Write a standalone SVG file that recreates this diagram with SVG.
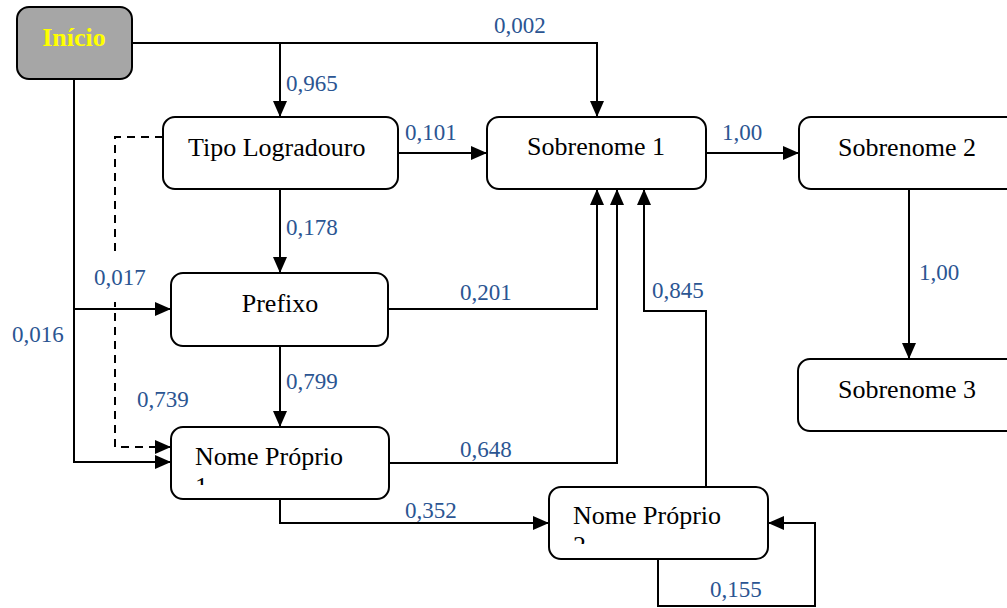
<svg xmlns="http://www.w3.org/2000/svg" width="1007" height="608" viewBox="0 0 1007 608">
  <style>
    .box { fill: #ffffff; stroke: #000000; stroke-width: 2; }
    .start { fill: #a6a6a6; stroke: #000000; stroke-width: 2; }
    .name { font-family: "Liberation Serif", "Times New Roman", serif; font-size: 26px; fill: #000000; }
    .startText { font-family: "Liberation Serif", "Times New Roman", serif; font-size: 26px; font-weight: bold; fill: #ffff00; }
    .wire { fill: none; stroke: #000000; stroke-width: 2; }
    .dash { fill: none; stroke: #000000; stroke-width: 2; stroke-dasharray: 8 6; }
    .prob { font-family: "Liberation Serif", "Times New Roman", serif; font-size: 23px; fill: #2b5592; }
  </style>
  <defs>
    <marker id="arrow" markerUnits="userSpaceOnUse" markerWidth="16" markerHeight="14" refX="15" refY="7" orient="auto">
      <path d="M0,0 L16,7 L0,14 Z" fill="#000000"/>
    </marker>
    <clipPath id="clipNp1"><rect x="171" y="427" width="218" height="58"/></clipPath>
    <clipPath id="clipNp2"><rect x="549" y="487" width="219" height="57"/></clipPath>
  </defs>

  <rect width="1007" height="608" fill="#ffffff"/>

  <!-- connectors -->
  <g id="connectors">
    <!-- from Início -->
    <path class="wire" d="M132,43 H597 V116" marker-end="url(#arrow)"/>
    <path class="wire" d="M280,43 V116" marker-end="url(#arrow)"/>
    <path class="wire" d="M74,79 V462 H170" marker-end="url(#arrow)"/>
    <path class="wire" d="M74,309 H170" marker-end="url(#arrow)"/>
    <!-- dashed: Tipo Logradouro to Nome Próprio 1 -->
    <path class="dash" d="M163,137 H115 V447 H170" marker-end="url(#arrow)"/>
    <!-- Tipo Logradouro -->
    <path class="wire" d="M398,153 H486" marker-end="url(#arrow)"/>
    <path class="wire" d="M280,189 V272" marker-end="url(#arrow)"/>
    <!-- Prefixo -->
    <path class="wire" d="M280,346 V426" marker-end="url(#arrow)"/>
    <path class="wire" d="M388,309 H597 V190" marker-end="url(#arrow)"/>
    <!-- Nome Próprio 1 -->
    <path class="wire" d="M389,463 H617 V190" marker-end="url(#arrow)"/>
    <path class="wire" d="M280,499 V523 H548" marker-end="url(#arrow)"/>
    <!-- Nome Próprio 2 -->
    <path class="wire" d="M706,487 V311 H644 V190" marker-end="url(#arrow)"/>
    <path class="wire" d="M658,559 V606 H815 V523 H769" marker-end="url(#arrow)"/>
    <!-- Sobrenome chain -->
    <path class="wire" d="M706,153 H798" marker-end="url(#arrow)"/>
    <path class="wire" d="M909,189 V358" marker-end="url(#arrow)"/>

    <!-- probabilities -->
    <text class="prob" x="494" y="33">0,002</text>
    <text class="prob" x="286" y="91">0,965</text>
    <text class="prob" x="405" y="140">0,101</text>
    <text class="prob" x="722" y="140">1,00</text>
    <text class="prob" x="286" y="235">0,178</text>
    <rect x="90" y="252" width="62" height="50" fill="#ffffff"/>
    <text class="prob" x="94" y="285">0,017</text>
    <text class="prob" x="12" y="342">0,016</text>
    <text class="prob" x="286" y="389">0,799</text>
    <text class="prob" x="137" y="407">0,739</text>
    <text class="prob" x="460" y="300">0,201</text>
    <text class="prob" x="652" y="298">0,845</text>
    <text class="prob" x="460" y="457">0,648</text>
    <text class="prob" x="405" y="518">0,352</text>
    <text class="prob" x="710" y="597">0,155</text>
    <text class="prob" x="919" y="280">1,00</text>
  </g>

  <!-- nodes -->
  <g id="inicio">
    <rect class="start" x="17" y="7" width="115" height="72" rx="12"/>
    <text class="startText" x="74" y="46" text-anchor="middle">Início</text>
  </g>
  <g id="tipo-logradouro">
    <rect class="box" x="163" y="117" width="235" height="72" rx="12"/>
    <text class="name" x="188" y="156">Tipo Logradouro</text>
  </g>
  <g id="sobrenome-1">
    <rect class="box" x="487" y="117" width="219" height="72" rx="12"/>
    <text class="name" x="596" y="155" text-anchor="middle">Sobrenome 1</text>
  </g>
  <g id="sobrenome-2">
    <rect class="box" x="799" y="117" width="230" height="72" rx="12"/>
    <text class="name" x="838" y="156">Sobrenome 2</text>
  </g>
  <g id="sobrenome-3">
    <rect class="box" x="798" y="359" width="230" height="72" rx="12"/>
    <text class="name" x="838" y="398">Sobrenome 3</text>
  </g>
  <g id="prefixo">
    <rect class="box" x="171" y="273" width="217" height="73" rx="12"/>
    <text class="name" x="280" y="312" text-anchor="middle">Prefixo</text>
  </g>
  <g id="nome-proprio-1">
    <rect class="box" x="171" y="427" width="218" height="72" rx="12"/>
    <text class="name" x="195" y="465" clip-path="url(#clipNp1)">Nome Próprio<tspan x="195" y="495">1</tspan></text>
  </g>
  <g id="nome-proprio-2">
    <rect class="box" x="549" y="487" width="219" height="72" rx="12"/>
    <text class="name" x="573" y="524" clip-path="url(#clipNp2)">Nome Próprio<tspan x="573" y="554">2</tspan></text>
  </g>
</svg>
